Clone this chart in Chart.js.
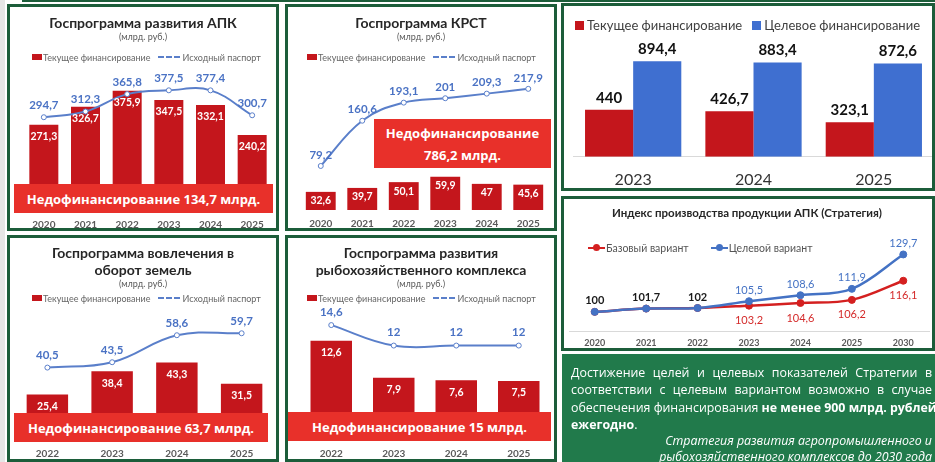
<!DOCTYPE html>
<html>
<head>
<meta charset="utf-8">
<script src="https://cdn.jsdelivr.net/npm/chart.js@4"></script>
<style>
  body { margin: 0; width: 935px; height: 462px; position: relative; overflow: hidden; background: #fff; font-family: Lato, sans-serif; }
  .panel { position: absolute; border: 3px solid #1c5d3a; box-sizing: border-box; z-index: 2; pointer-events: none; }
  .cw { position: absolute; z-index: 1; }
  .head { position: absolute; z-index: 3; text-align: center; color: #262626; }
  .head .t { font-weight: 700; font-size: 14px; line-height: 17px; }
  .head .s { font-size: 9px; line-height: 12px; color: #595959; }
  .legend { position: absolute; z-index: 3; display: flex; align-items: center; font-size: 9px; color: #666; white-space: nowrap; height: 12px; }
  .sw { display: inline-block; width: 10px; height: 6px; background: #c4161c; margin-right: 1px; }
  .dash { display: inline-block; width: 22px; border-top: 2px dashed #5a7fca; margin: 0 2px 0 8px; }
  .banner { position: absolute; z-index: 3; background: #e8302a; color: #fff; font-family: 'Open Sans', sans-serif; font-weight: 700; font-size: 13px; display: flex; align-items: center; justify-content: center; text-align: center; line-height: 22px; white-space: nowrap; }
  .note { position: absolute; z-index: 3; left: 562px; top: 354px; width: 373px; height: 108px; background: #217a4b; color: #fff; font-family: 'Open Sans', sans-serif; font-size: 12.4px; box-sizing: border-box; padding: 10px 3px 0 9px; overflow: hidden; white-space: nowrap; }
  .note .j { line-height: 17.3px; text-align: justify; text-align-last: justify; }
  .note .l { line-height: 17.3px; }
  .note .src { font-style: italic; text-align: right; line-height: 15.5px; margin-top: 0px; }
</style>
</head>
<body>
<div style="position:absolute;left:0;top:0;width:5px;height:462px;background:#e6e6e6"></div>
<div style="position:absolute;left:22px;top:0;width:913px;height:2px;background:#1c5d3a"></div>

<!-- panels -->
<div class="panel" style="left:7px;top:4px;width:272px;height:227px"></div>
<div class="panel" style="left:285px;top:4px;width:272px;height:227px"></div>
<div class="panel" style="left:7px;top:235px;width:272px;height:227px"></div>
<div class="panel" style="left:285px;top:235px;width:272px;height:227px"></div>
<div class="panel" style="left:561px;top:3px;width:374px;height:188px"></div>
<div class="panel" style="left:561px;top:196px;width:374px;height:155px"></div>

<!-- headings -->
<div class="head" style="left:8px;top:14px;width:270px"><div class="t">Госпрограмма развития АПК</div><div class="s">(млрд. руб.)</div></div>
<div class="head" style="left:286px;top:14px;width:270px"><div class="t">Госпрограмма КРСТ</div><div class="s">(млрд. руб.)</div></div>
<div class="head" style="left:8px;top:244px;width:270px"><div class="t">Госпрограмма вовлечения в<br>оборот земель</div><div class="s">(млрд. руб.)</div></div>
<div class="head" style="left:286px;top:244px;width:270px"><div class="t">Госпрограмма развития<br>рыбохозяйственного комплекса</div><div class="s">(млрд. руб.)</div></div>
<div class="head" style="left:562px;top:206px;width:370px"><div class="t" style="font-size:11.5px;line-height:14px">Индекс производства продукции АПК (Стратегия)</div></div>

<!-- legends -->
<div class="legend" style="left:32px;top:51px"><span class="sw"></span>Текущее финансирование<span class="dash"></span>Исходный паспорт</div>
<div class="legend" style="left:307px;top:51px"><span class="sw"></span>Текущее финансирование<span class="dash"></span>Исходный паспорт</div>
<div class="legend" style="left:32px;top:292px"><span class="sw"></span>Текущее финансирование<span class="dash"></span>Исходный паспорт</div>
<div class="legend" style="left:307px;top:292px"><span class="sw"></span>Текущее финансирование<span class="dash"></span>Исходный паспорт</div>
<div class="legend" style="left:575px;top:17px;height:16px;font-size:13px;color:#404040">
  <span style="display:inline-block;width:9px;height:9px;background:#c4161c;margin-right:3px"></span>Текущее финансирование
  <span style="display:inline-block;width:9px;height:9px;background:#3f6fd0;margin:0 3px 0 10px"></span>Целевое финансирование
</div>
<div class="legend" style="left:588px;top:242px;font-size:10.5px;color:#555">
  <span style="position:relative;display:inline-block;width:17px;height:2px;background:#d42020;margin-right:1px"><span style="position:absolute;left:5px;top:-3px;width:7px;height:7px;border-radius:50%;background:#d42020"></span></span>Базовый вариант
  <span style="position:relative;display:inline-block;width:17px;height:2px;background:#4472c4;margin:0 1px 0 22px"><span style="position:absolute;left:5px;top:-3px;width:7px;height:7px;border-radius:50%;background:#4472c4"></span></span>Целевой вариант
</div>

<!-- charts -->
<div class="cw" style="left:18px;top:64px;width:260px;height:173px"><canvas id="apkChart"></canvas></div>
<div class="cw" style="left:295px;top:60px;width:259px;height:178px"><canvas id="krstChart"></canvas></div>
<div class="cw" style="left:10px;top:305px;width:269px;height:163px"><canvas id="landChart"></canvas></div>
<div class="cw" style="left:295px;top:305px;width:260px;height:163px"><canvas id="fishChart"></canvas></div>
<div class="cw" style="left:565px;top:36px;width:369px;height:166px"><canvas id="fundChart"></canvas></div>
<div class="cw" style="left:563px;top:236px;width:371px;height:118px"><canvas id="indexChart"></canvas></div>

<!-- banners -->
<div class="banner" style="left:14px;top:184px;width:259px;height:29px">Недофинансирование 134,7 млрд.</div>
<div class="banner" style="left:374px;top:119px;width:177px;height:49px">Недофинансирование<br>786,2 млрд.</div>
<div class="banner" style="left:14px;top:413px;width:254px;height:29px">Недофинансирование 63,7 млрд.</div>
<div class="banner" style="left:288px;top:412px;width:263px;height:29px">Недофинансирование 15 млрд.</div>

<div class="note">
  <div class="j">Достижение целей и целевых показателей Стратегии в</div>
  <div class="j">соответствии с целевым вариантом возможно в случае</div>
  <div class="l">обеспечения финансирования <b>не менее 900 млрд. рублей</b></div>
  <div class="l"><b>ежегодно</b>.</div>
  <div class="src">Стратегия развития агропромышленного и<br>рыбохозяйственного комплексов до 2030 года</div>
</div>

<script>
/* ================== DATA ================== */
const apkYears = ["2020", "2021", "2022", "2023", "2024", "2025"];
const apkCurrent = [271.3, 326.7, 375.9, 347.5, 332.1, 240.2];
const apkPassport = [294.7, 312.3, 365.8, 377.5, 377.4, 300.7];

const krstYears = ["2020", "2021", "2022", "2023", "2024", "2025"];
const krstCurrent = [32.6, 39.7, 50.1, 59.9, 47, 45.6];
const krstPassport = [79.2, 160.6, 193.1, 201, 209.3, 217.9];

const landYears = ["2022", "2023", "2024", "2025"];
const landCurrent = [25.4, 38.4, 43.3, 31.5];
const landPassport = [40.5, 43.5, 58.6, 59.7];

const fishYears = ["2022", "2023", "2024", "2025"];
const fishCurrent = [12.6, 7.9, 7.6, 7.5];
const fishPassport = [14.6, 12, 12, 12];

const fundYears = ["2023", "2024", "2025"];
const fundCurrent = [440, 426.7, 323.1];
const fundTarget = [894.4, 883.4, 872.6];

const indexYears = ["2020", "2021", "2022", "2023", "2024", "2025", "2030"];
const indexBase = [100, 101.7, 102, 103.2, 104.6, 106.2, 116.1];
const indexTarget = [100, 101.7, 102, 105.5, 108.6, 111.9, 129.7];

/* ================== COLORS ================== */
const RED = "#c4161c";
const BLUE_LINE = "#5a7fca";
const BLUE_TEXT = "#4a72c4";

const fmt = v => String(v).replace(".", ",");

/* ================== VALUE LABELS PLUGIN ================== */
const valueLabels = {
  id: "valueLabels",
  afterDatasetsDraw(chart) {
    const ctx = chart.ctx;
    chart.data.datasets.forEach((ds, d) => {
      const lbl = ds.lbl;
      if (!lbl) return;
      chart.getDatasetMeta(d).data.forEach((el, i) => {
        if (lbl.skip && lbl.skip(i)) return;
        const y = lbl.pos === "above" ? el.y - lbl.offset : el.y + lbl.offset;
        ctx.save();
        ctx.font = typeof lbl.font === "function" ? lbl.font(i) : lbl.font;
        ctx.fillStyle = typeof lbl.color === "function" ? lbl.color(i) : lbl.color;
        ctx.textAlign = "center";
        ctx.textBaseline = "middle";
        ctx.fillText(fmt(ds.data[i]), el.x, y);
        ctx.restore();
      });
    });
  }
};

const tickFont = { family: "Lato", size: 10, weight: "bold" };

/* ================== PROGRAM CHARTS (bars + passport line) ================== */
function programChart(id, years, current, passport, opt) {
  return new Chart(document.getElementById(id), {
    type: "bar",
    data: {
      labels: years,
      datasets: [
        {
          type: "line",
          data: passport,
          order: 0,
          borderColor: BLUE_LINE,
          borderWidth: 2,
          tension: 0.4,
          pointRadius: 2.5,
          pointBackgroundColor: "#fff",
          pointBorderColor: BLUE_LINE,
          pointBorderWidth: 1,
          lbl: { pos: "above", offset: opt.lineOffset, color: BLUE_TEXT, font: "bold 11.5px Lato" }
        },
        {
          data: current,
          order: 1,
          backgroundColor: RED,
          categoryPercentage: 0.8,
          barPercentage: opt.barPct,
          lbl: { pos: "inside", offset: opt.barOffset, color: "#fff", font: "bold 10.5px Lato" }
        }
      ]
    },
    options: {
      responsive: true,
      maintainAspectRatio: false,
      animation: false,
      layout: { padding: { top: opt.padTop } },
      plugins: { legend: { display: false }, tooltip: { enabled: false } },
      scales: {
        x: {
          grid: { display: false, drawTicks: false },
          border: { display: false },
          ticks: { padding: opt.tickPad, color: "#595959", font: tickFont }
        },
        y: { display: false, min: 0, max: opt.yMax }
      }
    },
    plugins: [valueLabels]
  });
}

programChart("apkChart", apkYears, apkCurrent, apkPassport,
  { yMax: 400, padTop: 19, tickPad: 6, barPct: 0.87, lineOffset: 12, barOffset: 12 });
programChart("krstChart", krstYears, krstCurrent, krstPassport,
  { yMax: 250, padTop: 11, tickPad: 8, barPct: 0.9, lineOffset: 11, barOffset: 9 });
programChart("landChart", landYears, landCurrent, landPassport,
  { yMax: 66, padTop: 17, tickPad: 8, barPct: 0.8, lineOffset: 12, barOffset: 12 });
programChart("fishChart", fishYears, fishCurrent, fishPassport,
  { yMax: 15.5, padTop: 13, tickPad: 8, barPct: 0.83, lineOffset: 13, barOffset: 12 });

/* ================== FUNDING 2023-2025 ================== */
new Chart(document.getElementById("fundChart"), {
  type: "bar",
  data: {
    labels: fundYears,
    datasets: [
      { data: fundCurrent, backgroundColor: RED,
        lbl: { pos: "above", offset: 12, color: "#111", font: "bold 15px Lato" } },
      { data: fundTarget, backgroundColor: "#3f6fd0",
        lbl: { pos: "above", offset: 12, color: "#111", font: "bold 15px Lato" } }
    ]
  },
  options: {
    responsive: true,
    maintainAspectRatio: false,
    animation: false,
    layout: { padding: { top: 14, left: 8 } },
    datasets: { bar: { categoryPercentage: 0.8, barPercentage: 1 } },
    plugins: { legend: { display: false }, tooltip: { enabled: false } },
    scales: {
      x: {
        grid: { display: false, drawTicks: false },
        border: { display: true, color: "#d9d9d9" },
        ticks: { padding: 13, color: "#333", font: { family: "Lato", size: 16 } }
      },
      y: { display: false, min: 0, max: 1000 }
    }
  },
  plugins: [valueLabels]
});

/* ================== PRODUCTION INDEX ================== */
new Chart(document.getElementById("indexChart"), {
  type: "line",
  data: {
    labels: indexYears,
    datasets: [
      {
        data: indexTarget,
        order: 0,
        borderColor: "#4472c4",
        backgroundColor: "#4472c4",
        lbl: {
          pos: "above", offset: 11,
          color: i => (i < 3 ? "#1a1a1a" : "#4472c4"),
          font: i => (i < 3 ? "bold 11px Lato" : "11px Lato")
        }
      },
      {
        data: indexBase,
        order: 1,
        borderColor: "#d42020",
        backgroundColor: "#d42020",
        lbl: { pos: "below", offset: 15, color: "#d42a2a", font: "11px Lato", skip: i => i < 3 }
      }
    ]
  },
  options: {
    responsive: true,
    maintainAspectRatio: false,
    animation: false,
    layout: { padding: { top: 14, left: 6 } },
    elements: {
      line: { borderWidth: 2.5, tension: 0.35 },
      point: { radius: 3.5, borderWidth: 1 }
    },
    plugins: { legend: { display: false }, tooltip: { enabled: false } },
    scales: {
      x: {
        offset: true,
        grid: { display: false, drawTicks: false },
        border: { display: true, color: "#d9d9d9" },
        ticks: { padding: 6, color: "#595959", font: { family: "Lato", size: 9, weight: "bold" } }
      },
      y: { display: false, min: 90, max: 132 }
    }
  },
  plugins: [valueLabels]
});
</script>
</body>
</html>
